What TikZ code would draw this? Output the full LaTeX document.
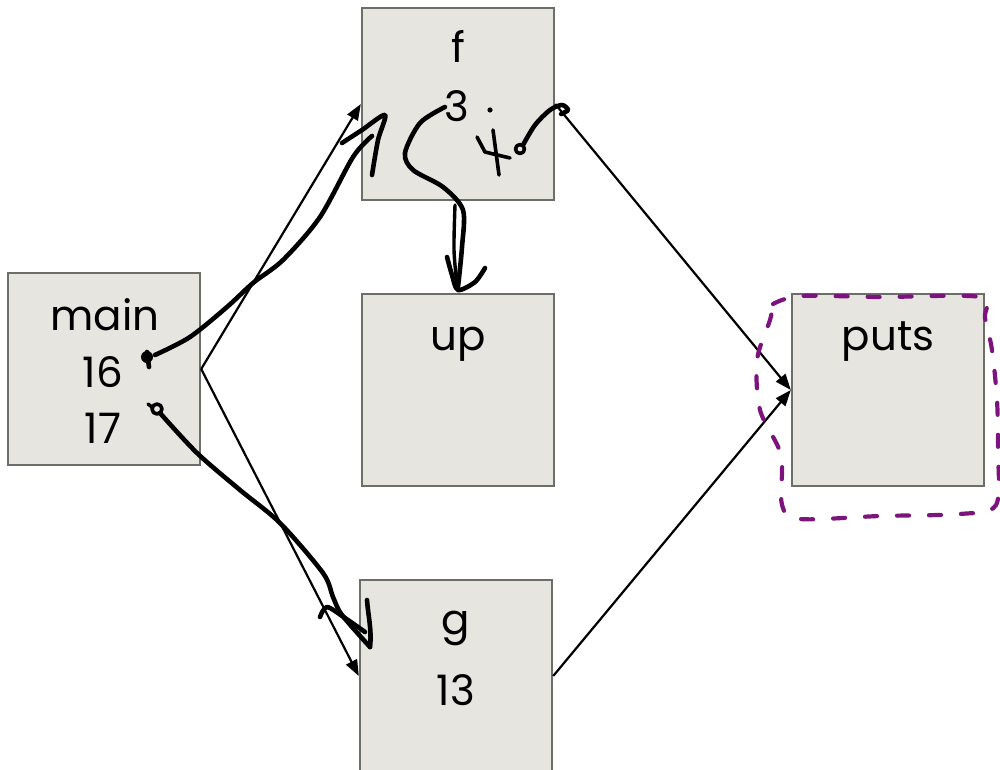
\documentclass[tikz,border=0pt]{standalone}
\usepackage{fontspec}
\setmainfont{Poppins}
\usetikzlibrary{arrows.meta}
\definecolor{boxfill}{HTML}{E7E5DF}
\definecolor{boxline}{HTML}{6E6E69}
\definecolor{ink}{RGB}{125,20,125}
\tikzset{
  frame/.style={rectangle,draw=boxline,fill=boxfill,line width=2.4pt,minimum width=192pt,minimum height=192pt,inner sep=0pt},
  lbl/.style={anchor=base,inner sep=0pt,font=\fontsize{42pt}{42pt}\selectfont},
  conn/.style={line width=2.2pt,-{Triangle[length=16pt,width=12pt]}},
  hand/.style={line width=4.6pt,line cap=round,line join=round},
  purp/.style={line width=4.2pt,line cap=round,line join=round,draw=ink,dash pattern=on 12pt off 20pt}
}
\begin{document}
\begin{tikzpicture}[x=1pt,y=-1pt]
\useasboundingbox (0,0) rectangle (1000,770);
% boxes
\node[frame] (main) at (104,369) {};
\node[frame] (f) at (458,104) {};
\node[frame] (up) at (458,390) {};
\node[frame] (puts) at (888,390) {};
\node[frame] (g) at (456,676) {};
% labels
\node[lbl] (tmain) at (105,330) {main};
\node[lbl] (t16) at (103,387) {16};
\node[lbl] (t17) at (103,443) {17};
\node[lbl] (tf) at (458,63) {f};
\node[lbl] (t3) at (457,122) {3};
\node[lbl] (tup) at (458,350) {up};
\node[lbl] (tputs) at (888,350) {puts};
\node[lbl] (tg) at (456,634) {g};
\node[lbl] (t13) at (456,705) {13};
% connectors
\draw[conn] (main.east) -- (f.west);
\draw[conn] (main.east) -- (g.west);
\draw[conn] (f.east) -- (puts.west);
\draw[conn] (g.east) -- (puts.west);
% handwritten black strokes
\fill (147,357) circle (6);
\draw[hand] (147,352) -- (149,367);
\draw[hand] plot[smooth] coordinates {(155,355) (190,337) (227,307) (253,283) (283,260) (320,217) (353,157) (372,136)};
\draw[hand] plot[smooth] coordinates {(342,143) (362,130) (385,115) (378,140) (372,175)};
\draw[hand,line width=3.6pt] (157,409) circle (5);
\draw[hand,line width=3.4pt] (148,404) -- (152,407);
\draw[hand] plot[smooth] coordinates {(160,413) (197,453) (240,490) (280,523) (323,573) (333,597) (342,615) (370,647)};
\draw[hand] (370,647) .. controls (372,630) and (368,615) .. (367,600);
\draw[hand] plot[smooth] coordinates {(320,617) (327,607) (345,618) (365,632)};
\draw[hand] plot[smooth] coordinates {(445,107) (420,123) (405,153) (413,170) (443,187) (463,210) (462,247) (458,287)};
\draw[hand,line width=3.4pt] plot[smooth] coordinates {(455,205) (454,250) (457,285)};
\draw[hand] plot[smooth] coordinates {(447,257) (452,275) (458,290) (475,282) (485,268)};
\fill (490,110) circle (2.6);
\draw[hand,line width=3.6pt] (477,137) -- (485,152) -- (510,158);
\draw[hand,line width=3.6pt] (493,130) -- (499,175);
\draw[hand,line width=3.6pt] (520,149) circle (4.5);
\draw[hand] plot[smooth] coordinates {(523,145) (535,125) (550,110) (562,105) (568,110) (561,114)};
% purple dashed outline
\draw[purp] plot[smooth] coordinates {(773,304) (800,296) (880,297) (980,297) (985,318) (992,350) (997,400) (998,450) (996,505) (960,514) (880,516) (800,519) (782,505) (781,455) (760,410) (757,360) (770,320) (773,304)};
\end{tikzpicture}
\end{document}
